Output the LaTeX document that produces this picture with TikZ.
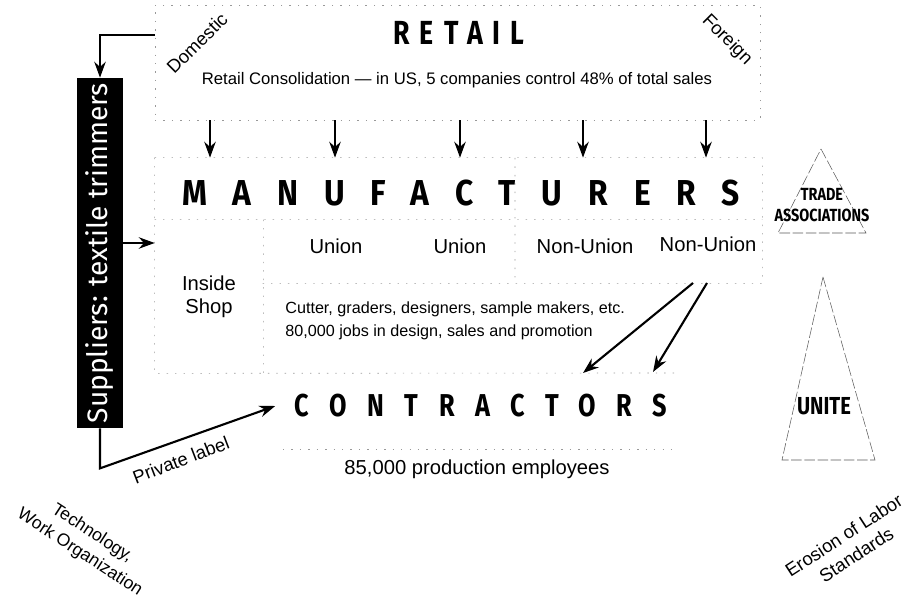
\documentclass[tikz,border=0pt]{standalone}
\usepackage{fontspec}
\setmainfont{Liberation Sans}
\newfontfamily\retailfont{Fira Sans}[FakeStretch=0.8,LetterSpace=30]
\newfontfamily\manufont{Fira Sans}[FakeStretch=0.88,LetterSpace=72]
\newfontfamily\contrfont{Fira Sans}[FakeStretch=0.8,LetterSpace=65]
\newfontfamily\supfont{Fira Sans}
\newfontfamily\tradefont{Fira Sans}[FakeStretch=0.82]
\usetikzlibrary{arrows.meta,positioning,fit,calc}
\tikzset{
  zone/.style={draw=black!40, line width=0.35pt, dash pattern=on 0.8pt off 4pt},
  peak/.style={draw=black!65, line width=0.3pt, dash pattern=on 6pt off 1.5pt},
  arr/.style={-{Stealth[length=9pt,width=6.5pt]}, line width=1.2pt},
  txt/.style={inner sep=0pt, align=center, font=\fontsize{#1}{13}\selectfont},
  txt/.default=11
}

\begin{document}
\begin{tikzpicture}[x=0.02cm,y=-0.02cm]
    \useasboundingbox (0,0) rectangle (919,601);
    %%Retail
    \node[zone, fit={(155,5) (760,120)}, inner sep=0pt] (retail) {};
    \node[inner sep=0pt, font=\retailfont\bfseries\fontsize{19}{19}\selectfont] (retailtitle) at (459,33) {RETAIL};
    \node[txt=9.5] (consol) at (457,80) {Retail Consolidation --- in US, 5 companies control 48\% of total sales};
    \node[txt=10.5, rotate=45] (domestic) at (197,43) {Domestic};
    \node[txt=10.5, rotate=-45] (foreign) at (727,40) {Foreign};

    %%Manufacturers
    \node[fit={(155,158) (762,373)}, inner sep=0pt] (manu) {};
    \node[fit={(155,220) (263,373)}, inner sep=0pt] (inside) {};
    \node[fit={(263,220) (762,283)}, inner sep=0pt] (unionrow) {};
    \draw[zone]
    (manu.north west) to (manu.north east) to (unionrow.south east)
    (manu.north west) to (manu.south west) to (675,373)
    (inside.north west) to (unionrow.north east)
    (inside.north east) to (inside.south east)
    (unionrow.south west) to (unionrow.south east)
    (515,158) to (515,283)
    ;
    \node[inner sep=0pt, font=\manufont\bfseries\fontsize{20.5}{20.5}\selectfont] (manutitle) at (461,193) {MANUFACTURERS};
    \node[txt=11.5] (insideshop) at (inside.center) {Inside\\Shop};
    \node[txt=11.5] (union1) at (336,246) {Union};
    \node[txt=11.5] (union2) at (460,246) {Union};
    \node[txt=11.5] (nonunion1) at (585,246) {Non-Union};
    \node[txt=11.5] (nonunion2) at (708,244) {Non-Union};
    \node[txt=9.2, align=left, anchor=west] (staff) at (285,321) {Cutter, graders, designers, sample makers, etc.\\80,000 jobs in design, sales and promotion};

    %%Retail to manufacturers
    \foreach \x in {210,335,460,583,706}
      \draw[arr] (retail.south -| \x,0) to (manu.north -| \x,0);

    %%Contractors
    \node[inner sep=0pt, font=\contrfont\bfseries\fontsize{18}{18}\selectfont] (contr) at (481,406) {CONTRACTORS};
    \draw[zone] (283,449) to (673,449);
    \node[txt=11.5] (employees) at (477,469) {85,000 production employees};
    \coordinate (nuA) at (693,283);
    \coordinate (nuB) at (707,283);
    \coordinate (ctA) at (583,373);
    \coordinate (ctB) at (653,372);
    \draw[arr] (nuA) to (ctA);
    \draw[arr] (nuB) to (ctB);

    %%Suppliers
    \node[fill=black, fit={(77,78) (123,428)}, inner sep=0pt] (sup) {};
    \node[rotate=90, text=white, inner sep=0pt, font=\supfont\fontsize{16}{16}\selectfont] (suptext) at (sup.center) {Suppliers: textile trimmers};
    \coordinate (domstart) at (155,35);
    \draw[arr] (domstart) -| (sup.north);
    \draw[arr] (sup.east |- 0,243) to (inside.west |- 0,243);
    \draw[arr] (sup.south) to ++(0,40) to ([xshift=-11pt]contr.west);
    \node[txt=10.5, rotate=21] (private) at (181,460) {Private label};

    %%Trade associations and UNITE
    \draw[peak] (821,149) to (866,233) to (778,233) to cycle;
    \node[inner sep=0pt, align=center, font=\tradefont\bfseries\fontsize{10}{11.5}\selectfont] (trade) at (822,205) {TRADE\\ASSOCIATIONS};
    \draw[peak] (823,277) to (875,460) to (782,460) to cycle;
    \node[inner sep=0pt, font=\tradefont\bfseries\fontsize{14}{14}\selectfont] (unite) at (824,406) {UNITE};

    %%Forces
    \node[txt=10, rotate=-33] (tech) at (86,543) {Technology,\\Work Organization};
    \node[txt=10.5, rotate=33] (erosion) at (850,545) {Erosion of Labor\\Standards};
\end{tikzpicture}
\end{document}
